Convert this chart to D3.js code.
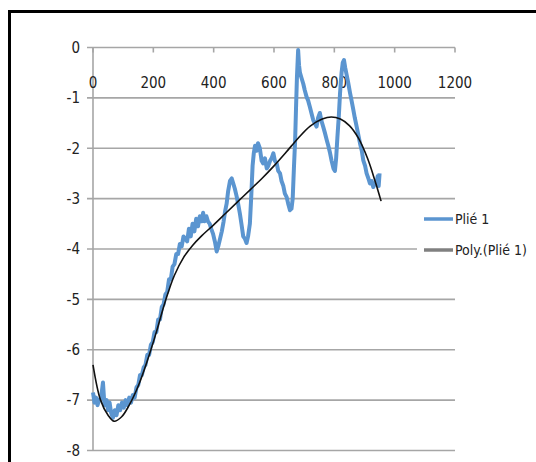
<!DOCTYPE html>
<html>
<head>
<meta charset="utf-8">
<script src="https://cdn.jsdelivr.net/npm/d3@7"></script>
<style>
  html, body { margin: 0; padding: 0; background: #fff; }
  svg text { font-family: "Liberation Sans Narrow", "DejaVu Sans Condensed", "Liberation Sans", Arial, sans-serif; fill: #222; }
</style>
</head>
<body>
<svg id="chart" width="536" height="462"></svg>
<script>
// ==================
// Data
// ==================
const xTicks = [0, 200, 400, 600, 800, 1000, 1200];
const yTicks = [0, -1, -2, -3, -4, -5, -6, -7, -8];

// "Plié 1" measured series
const plieX = [0, 5, 10, 15, 20, 27, 33, 38, 45, 50, 55, 60, 66, 72, 78, 84, 90, 96, 102, 108,
  114, 120, 126, 132, 138, 144, 150, 156, 162, 168, 174, 180, 186, 192, 198, 204, 210, 216, 222, 228,
  234, 240, 246, 252, 258, 264, 270, 276, 282, 288, 294, 300, 306, 312, 318, 324, 330, 336, 342, 348,
  354, 360, 365, 370, 376, 381, 387, 392, 398, 404, 410, 415, 421, 427, 433, 438, 443, 448, 454, 460,
  465, 470, 476, 481, 487, 492, 498, 504, 509, 514, 520, 525, 529, 533, 537, 542, 547, 553, 559, 564,
  570, 576, 581, 587, 592, 598, 603, 609, 614, 620, 625, 631, 636, 642, 647, 653, 658, 662, 666, 670,
  673, 676, 680, 683, 686, 691, 697, 702, 708, 713, 719, 724, 730, 735, 741, 746, 752, 757, 763, 769,
  775, 780, 786, 791, 797, 802, 806, 810, 815, 819, 824, 828, 832, 836, 841, 846, 852, 857, 863, 868,
  874, 880, 885, 891, 896, 902, 907, 913, 918, 924, 929, 935, 940, 944, 947, 950];
const plieY = [-6.85, -7.05, -6.95, -7.1, -7.0, -6.95, -6.65, -7.1, -7.0, -7.2, -7.05, -7.25, -7.35, -7.2, -7.3, -7.1, -7.2, -7.05, -7.15, -7.0,
  -7.1, -6.95, -7.05, -6.9, -6.95, -6.75, -6.7, -6.5, -6.5, -6.35, -6.3, -6.1, -6.1, -5.9, -5.85, -5.65, -5.65, -5.4, -5.4, -5.15,
  -5.1, -4.9, -4.85, -4.6, -4.6, -4.35, -4.3, -4.1, -4.1, -3.9, -3.95, -3.75, -3.8, -3.85, -3.6, -3.75, -3.5, -3.65, -3.4, -3.55,
  -3.35, -3.45, -3.28, -3.45, -3.35, -3.45, -3.5, -3.6, -3.7, -3.85, -4.05, -3.95, -3.8, -3.65, -3.45, -3.25, -3.1, -2.85, -2.65, -2.6,
  -2.7, -2.8, -2.95, -3.1, -3.3, -3.5, -3.75, -3.8, -3.88, -3.75, -3.5, -2.9, -2.35, -2.1, -1.95, -2.05, -1.9, -2.0, -2.25, -2.3,
  -2.2, -2.4, -2.35, -2.25, -2.2, -2.1, -2.25, -2.3, -2.45, -2.5, -2.65, -2.75, -2.9, -2.97, -3.1, -3.23, -3.2, -3.0, -2.4, -1.85,
  -1.2, -0.6, -0.05, -0.35, -0.5, -0.6, -0.72, -0.85, -0.98, -1.05, -1.18, -1.3, -1.44, -1.5, -1.57, -1.4, -1.3, -1.45, -1.57, -1.7,
  -1.84, -1.95, -2.1, -2.25, -2.4, -2.45, -2.2, -1.8, -1.35, -0.9, -0.5, -0.3, -0.25, -0.4, -0.55, -0.7, -0.9, -1.05, -1.24, -1.4,
  -1.57, -1.75, -1.9, -2.05, -2.24, -2.35, -2.5, -2.6, -2.7, -2.65, -2.77, -2.7, -2.67, -2.55, -2.75, -2.5];

// "Poly.(Plié 1)" trend line
const polyX = [0, 25, 50, 70, 95, 120, 150, 180, 210, 240, 270, 300, 330, 360, 400, 440, 480, 520, 560, 600,
  640, 680, 720, 760, 790, 820, 850, 880, 910, 935, 955];
const polyY = [-6.3, -7.0, -7.3, -7.42, -7.33, -7.1, -6.72, -6.22, -5.65, -5.03, -4.52, -4.17, -3.93, -3.74, -3.52, -3.29, -3.06, -2.83, -2.6, -2.35,
  -2.08, -1.8, -1.56, -1.42, -1.38, -1.42, -1.55, -1.8, -2.2, -2.65, -3.05];

const seriesNames = ['Plié 1', 'Poly.(Plié 1)'];

// ==================
// Layout
// ==================
const PLOT_LEFT = 93;
const PLOT_RIGHT = 455;
const PLOT_TOP = 47.5;
const PLOT_BOTTOM = 450.5;
const GRID_COLOR = '#a6a6a6';
const BLUE = '#5b95d0';

const svg = d3.select('#chart');

// outer chart frame
svg.append('rect')
  .attr('x', 9.5).attr('y', 11.5)
  .attr('width', 540).attr('height', 470)
  .attr('fill', '#fff')
  .attr('stroke', '#000')
  .attr('stroke-width', 3);

const xScale = d3.scaleLinear().domain([0, 1200]).range([PLOT_LEFT, PLOT_RIGHT]);
const yScale = d3.scaleLinear().domain([-8, 0]).range([PLOT_BOTTOM, PLOT_TOP]);

// horizontal gridlines
svg.append('g')
  .selectAll('line')
  .data(yTicks)
  .join('line')
  .attr('x1', PLOT_LEFT - 6)
  .attr('x2', PLOT_RIGHT)
  .attr('y1', d => yScale(d))
  .attr('y2', d => yScale(d))
  .attr('stroke', GRID_COLOR)
  .attr('stroke-width', 1.6);

// y axis line + labels
svg.append('line')
  .attr('x1', PLOT_LEFT).attr('x2', PLOT_LEFT)
  .attr('y1', PLOT_TOP).attr('y2', PLOT_BOTTOM)
  .attr('stroke', GRID_COLOR)
  .attr('stroke-width', 1.6);

svg.append('g')
  .selectAll('text')
  .data(yTicks)
  .join('text')
  .attr('x', 80)
  .attr('y', d => yScale(d))
  .attr('dy', '0.35em')
  .attr('text-anchor', 'end')
  .attr('font-size', 15)
  .text(d => d === 0 ? '0' : d3.format('d')(d).replace('−', '-'));

// x axis at the top (value 0), ticks going down, labels below
const xAxisGroup = svg.append('g')
  .attr('transform', `translate(0, ${yScale(0)})`);
xAxisGroup.selectAll('line.tick')
  .data(xTicks)
  .join('line')
  .attr('class', 'tick')
  .attr('x1', d => xScale(d)).attr('x2', d => xScale(d))
  .attr('y1', 0).attr('y2', 5)
  .attr('stroke', GRID_COLOR)
  .attr('stroke-width', 1.6);
xAxisGroup.selectAll('text')
  .data(xTicks)
  .join('text')
  .attr('x', d => xScale(d))
  .attr('y', 35.5)
  .attr('dy', '0.35em')
  .attr('text-anchor', 'middle')
  .attr('font-size', 15)
  .text(d => d);

// ==================
// Series
// ==================
const plieData = plieX.map((x, i) => ({ x, y: plieY[i] }));
const polyData = polyX.map((x, i) => ({ x, y: polyY[i] }));

svg.append('path')
  .datum(plieData)
  .attr('d', d3.line().x(d => xScale(d.x)).y(d => yScale(d.y)))
  .attr('fill', 'none')
  .attr('stroke', BLUE)
  .attr('stroke-width', 4)
  .attr('stroke-linejoin', 'round');

svg.append('path')
  .datum(polyData)
  .attr('d', d3.line().curve(d3.curveCatmullRom).x(d => xScale(d.x)).y(d => yScale(d.y)))
  .attr('fill', 'none')
  .attr('stroke', '#111')
  .attr('stroke-width', 1.6);

// ==================
// Legend
// ==================
svg.append('rect')
  .attr('x', 417).attr('y', 204)
  .attr('width', 118).attr('height', 64)
  .attr('fill', '#fff');

const legend = svg.append('g');
const legendRows = [
  { name: seriesNames[0], color: BLUE, y: 219 },
  { name: seriesNames[1], color: '#808080', y: 250 }
];
legend.selectAll('line')
  .data(legendRows)
  .join('line')
  .attr('x1', 424).attr('x2', 453)
  .attr('y1', d => d.y).attr('y2', d => d.y)
  .attr('stroke', d => d.color)
  .attr('stroke-width', 3.5);
legend.selectAll('text')
  .data(legendRows)
  .join('text')
  .attr('x', 455)
  .attr('y', d => d.y)
  .attr('dy', '0.35em')
  .attr('font-size', 14)
  .text(d => d.name);
</script>
</body>
</html>
